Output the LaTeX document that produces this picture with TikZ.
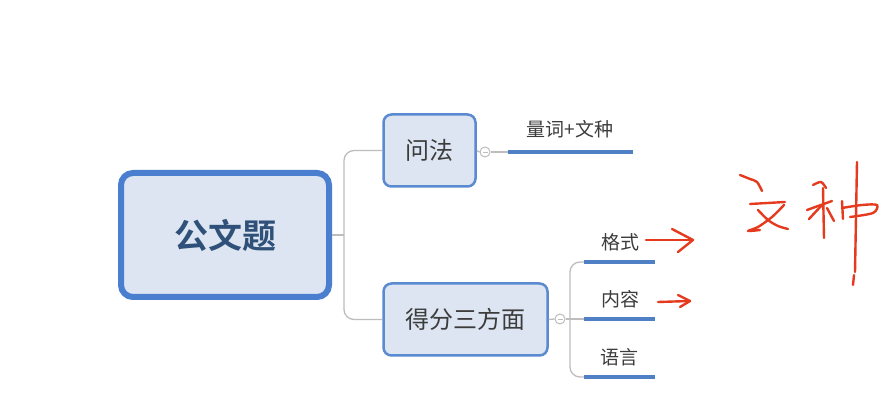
\documentclass[tikz,border=0pt]{standalone}
\usepackage{fontspec}
\newfontfamily\cjk{Noto Sans CJK SC}[BoldFont={Noto Sans CJK SC Bold}]
\usetikzlibrary{positioning}

\definecolor{boxfill}{HTML}{DCE5F1}
\definecolor{boxline}{HTML}{5A8AD0}
\definecolor{rootline}{HTML}{4A7ECF}
\definecolor{roottext}{HTML}{2F5078}
\definecolor{plaintext}{HTML}{3C3C3C}
\definecolor{linkgray}{HTML}{BDBDBD}
\definecolor{barblue}{HTML}{4F7FC4}
\definecolor{ink}{HTML}{E63A1F}

\begin{document}
\begin{tikzpicture}[
    x=1pt, y=-1pt,
    every node/.style={font=\cjk, text=plaintext},
    rootbox/.style={draw=rootline, line width=6pt, fill=boxfill, rounded corners=12pt,
                    minimum width=208pt, minimum height=124pt,
                    font=\cjk\bfseries\fontsize{34}{40}\selectfont, text=roottext},
    topic/.style={draw=boxline, line width=2.5pt, fill=boxfill, rounded corners=8pt,
                  minimum height=72pt, font=\cjk\fontsize{24}{28}\selectfont},
    leaf/.style={font=\cjk\fontsize{19}{22}\selectfont, inner sep=0pt},
    fold/.style={circle, draw=linkgray, line width=1pt, fill=white, minimum size=10pt, inner sep=0pt},
    link/.style={draw=linkgray, line width=1.3pt, rounded corners=10pt},
    bar/.style={draw=barblue, line width=4pt},
    hand/.style={draw=ink, line width=2.4pt, line cap=round, line join=round},
]
\useasboundingbox[fill=white] (0,0) rectangle (887,419);

% ── Central topic ───────────────────────────────────────────────────────────
\node[rootbox] (gongwen) at (225,235) {公文题};

% ── Main topics ─────────────────────────────────────────────────────────────
\node[topic, minimum width=92pt]  (wenfa) at (429.5,150.5) {问法};
\node[topic, minimum width=164pt] (defen) at (465.5,319.5) {得分三方面};

\coordinate (spine) at (344,235);
\draw[link] (gongwen.east) -- (spine);
\draw[link] (wenfa.west) -- (wenfa.west -| spine) -- (defen.west -| spine) -- (defen.west);

% ── Subtopic of 问法 ─────────────────────────────────────────────────────────
\node[fold] (fold1) at (485,152) {};
\draw[linkgray, line width=0.8pt] ([xshift=-2.5pt]fold1.center) -- ([xshift=2.5pt]fold1.center);
\draw[link] (wenfa.east) -- (fold1.west);
\coordinate (q0) at (508,152);
\coordinate (q1) at (633,152);
\draw[link] (fold1.east) -- (q0);
\draw[bar] (q0) -- (q1);
\node[leaf] (liangci) at (570,129) {量词+文种};

% ── Subtopics of 得分三方面 ───────────────────────────────────────────────────
\node[fold] (fold2) at (560,319) {};
\draw[linkgray, line width=0.8pt] ([xshift=-2.5pt]fold2.center) -- ([xshift=2.5pt]fold2.center);
\draw[link] (defen.east) -- (fold2.west);
\coordinate (trunk) at (570,319);
\draw[link] (fold2.east) -- (trunk);

\coordinate (g0) at (584,262);  \coordinate (g1) at (655,262);
\coordinate (n0) at (584,319);  \coordinate (n1) at (655,319);
\coordinate (y0) at (584,377);  \coordinate (y1) at (655,377);
\draw[link] (g0) -- (g0 -| trunk) -- (y0 -| trunk) -- (y0);
\draw[link] (trunk) -- (n0);
\draw[bar] (g0) -- (g1);
\draw[bar] (n0) -- (n1);
\draw[bar] (y0) -- (y1);

\node[leaf] (geshi)   at (620,242) {格式};
\node[leaf] (neirong) at (620,299) {内容};
\node[leaf] (yuyan)   at (619,357) {语言};

% ── Handwritten notes ───────────────────────────────────────────────────────
\coordinate (a1) at (646,240);  \coordinate (a1tip) at (693,240);
\draw[hand] (a1) -- (a1tip);
\draw[hand] (672,229) -- (a1tip) -- (678,252);

\coordinate (a2) at (658,302);  \coordinate (a2tip) at (690,301);
\draw[hand] (a2) -- (a2tip);
\draw[hand] (678,295) -- (a2tip) -- (680,307);

% 文
\draw[hand] plot[smooth] coordinates {(740,175) (750,179) (757,182) (762,191)};
\draw[hand] (750,204) -- (785,202);
\draw[hand] plot[smooth] coordinates {(784,205) (772,217) (758,227) (748,231) (760,230)};
\draw[hand] plot[smooth] coordinates {(758,210) (768,220) (778,226) (788,229)};

% 种
\draw[hand] plot[smooth] coordinates {(813,185) (821,182) (826,188)};
\draw[hand] (823,188) -- (824,238);
\draw[hand] (807,210) -- (832,201);
\draw[hand] (822,205) -- (809,219);
\draw[hand] (827,208) -- (834,221);
\draw[hand] (842,201) -- (843,219);
\draw[hand] plot[smooth] coordinates {(842,208) (862,205) (877,205) (873,213) (850,217)};
\draw[hand] (857,162) -- (855,272);
\draw[hand] (854,275) -- (853,285);

\end{tikzpicture}
\end{document}
